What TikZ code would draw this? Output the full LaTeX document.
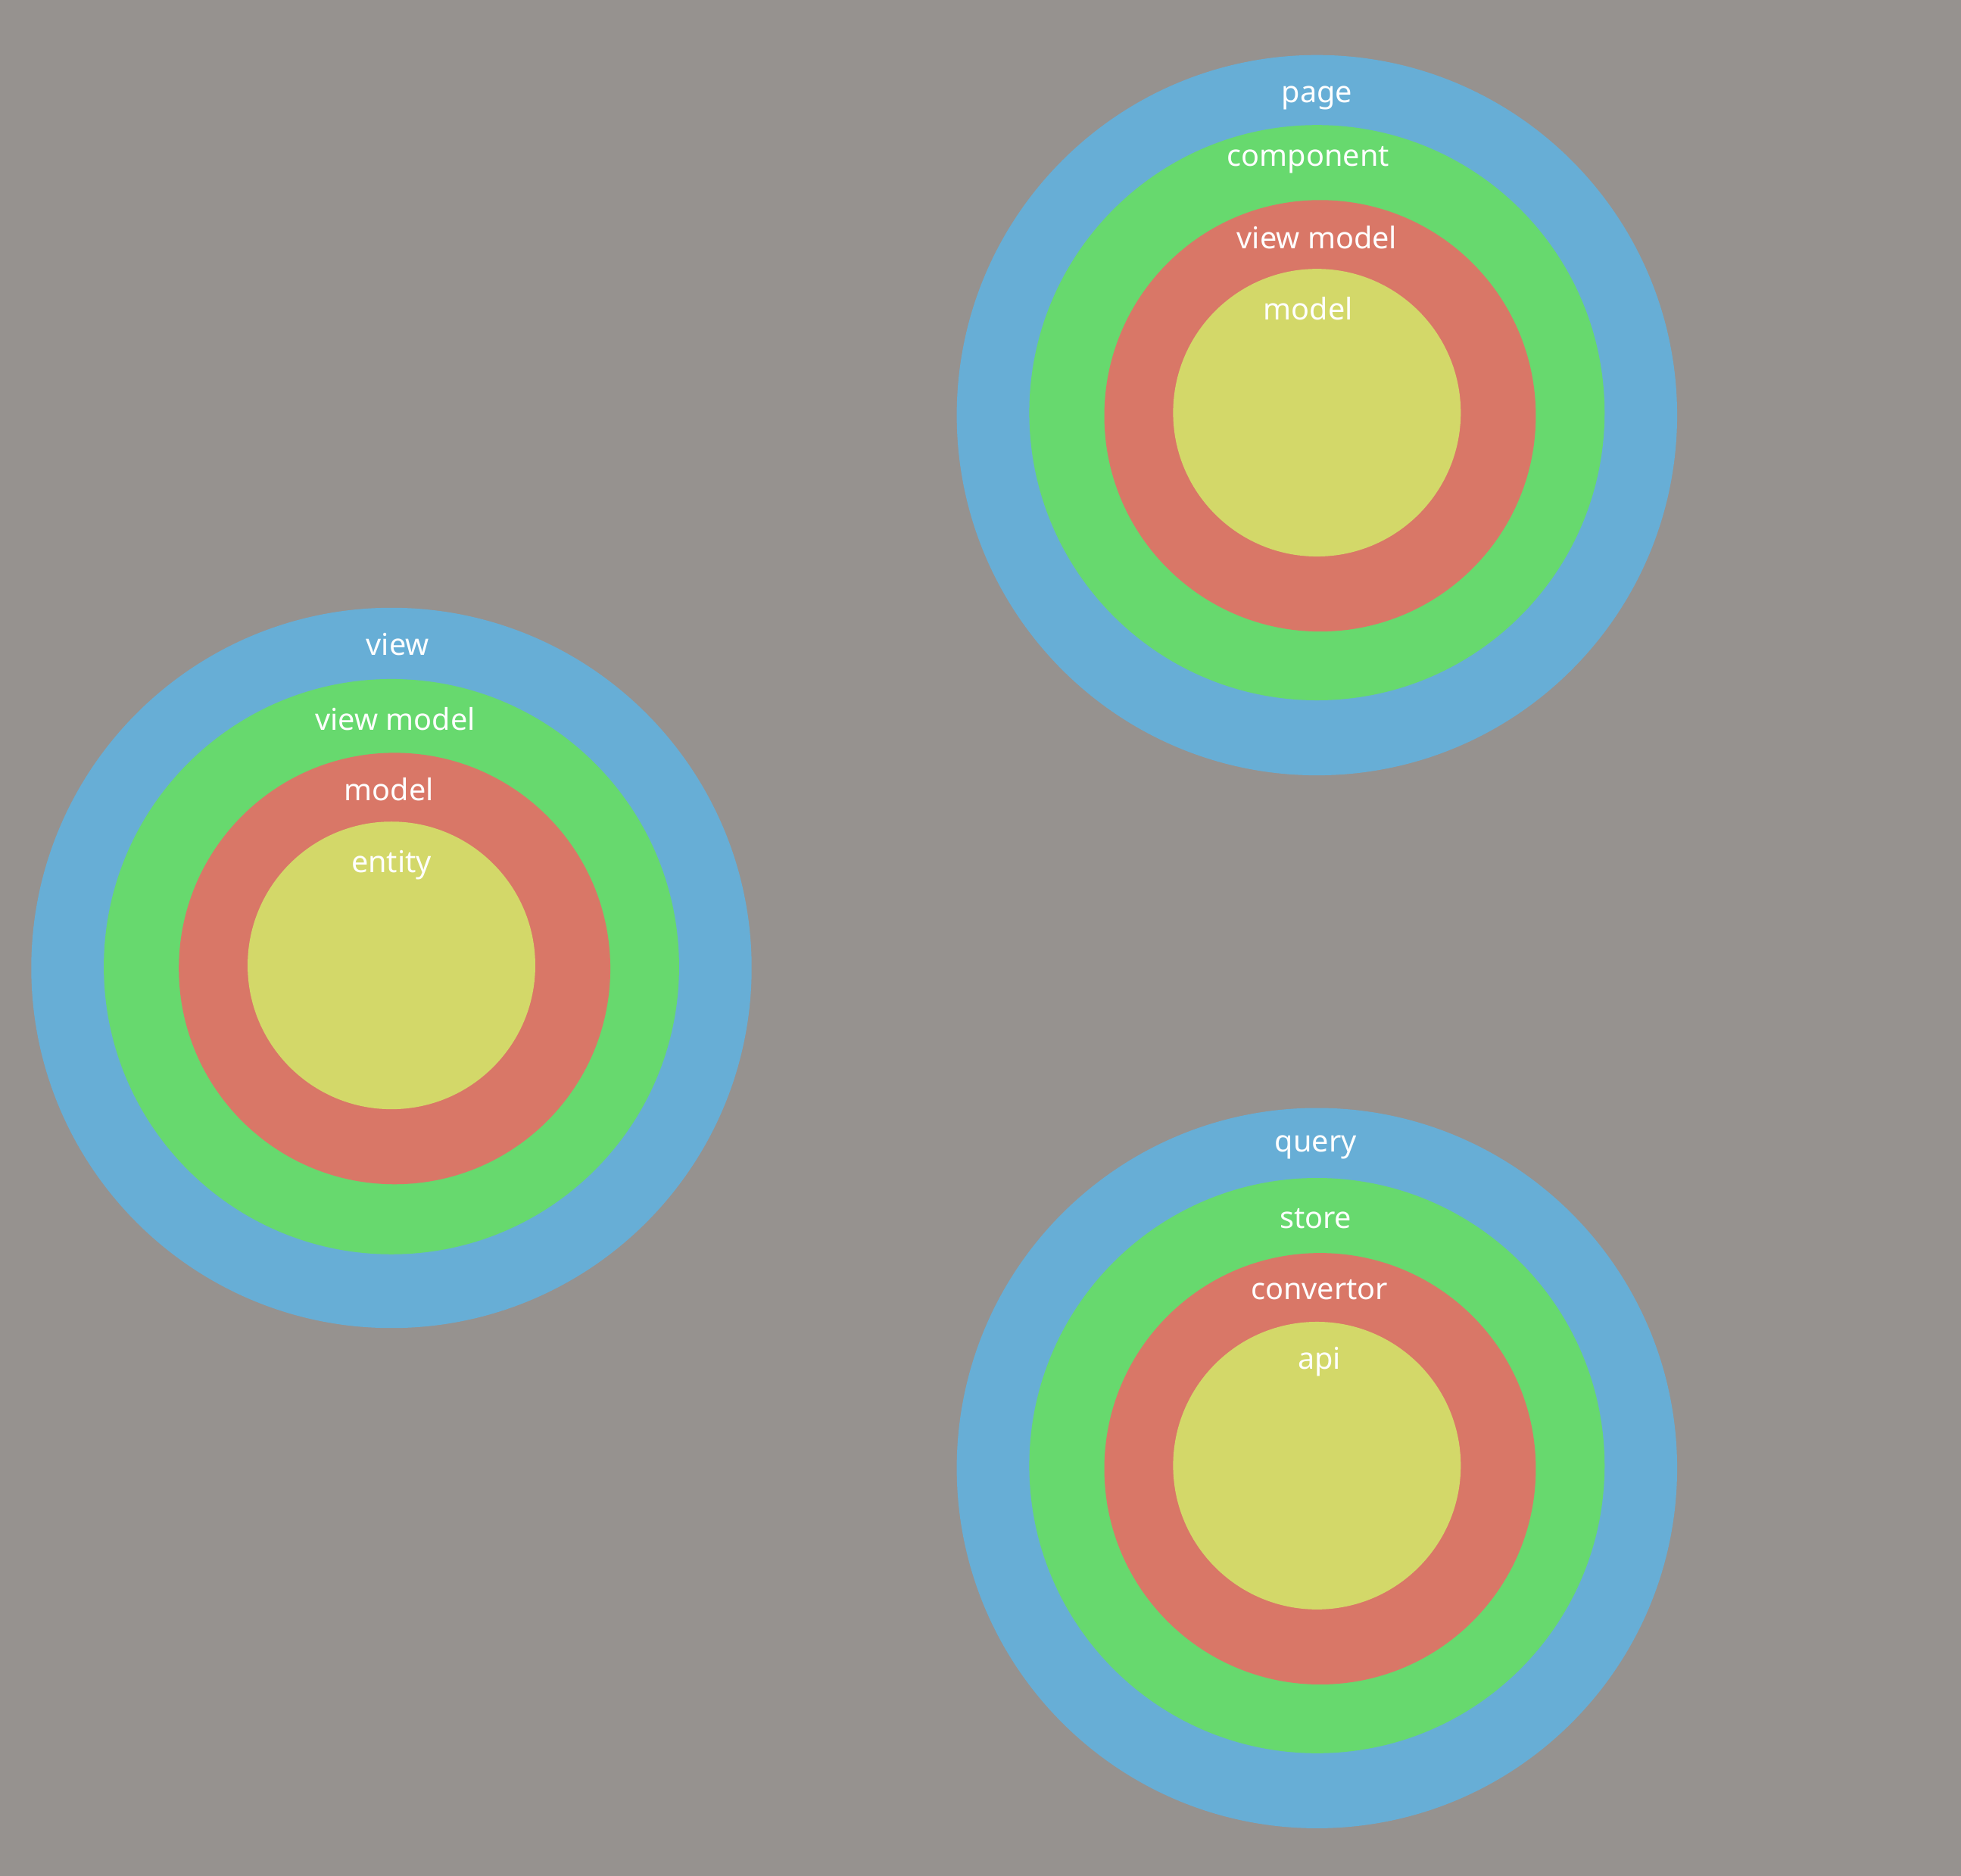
\documentclass[tikz,border=0pt]{standalone}
\usepackage{fontspec}
\setmainfont{Noto Sans}
\definecolor{bg}{HTML}{96928F}
\definecolor{cblue}{HTML}{67AED6}
\definecolor{cgreen}{HTML}{67D96E}
\definecolor{cred}{HTML}{D97767}
\definecolor{cyellow}{HTML}{D3D869}
\begin{document}
\begin{tikzpicture}[x=1pt,y=-1pt,
  ring/.style={circle, inner sep=0pt, draw=none},
  lbl/.style={text=white, font=\fontsize{24}{28}\selectfont, inner sep=0pt, anchor=base}]
\fill[bg] (0,0) rectangle (1568,1500);
\useasboundingbox (0,0) rectangle (1568,1500);
% top right group
\node[ring, fill=cblue, minimum size=576pt] (tb) at (1053,332) {};
\node[ring, fill=cgreen, minimum size=460pt] (tg) at (1053,330) {};
\node[ring, fill=cred, minimum size=345pt] (tr) at (1055.5,332.5) {};
\node[ring, fill=cyellow, minimum size=230pt] (ty) at (1053,330) {};
\node[lbl] (tbl) at (1053,82) {page};
\node[lbl] (tgl) at (1046,133) {component};
\node[lbl] (trl) at (1053,199) {view model};
\node[lbl] (tyl) at (1046,256) {model};
% left group
\node[ring, fill=cblue, minimum size=576pt] (lb) at (313,774) {};
\node[ring, fill=cgreen, minimum size=460pt] (lg) at (313,773) {};
\node[ring, fill=cred, minimum size=345pt] (lr) at (315.5,774.5) {};
\node[ring, fill=cyellow, minimum size=230pt] (ly) at (313,772) {};
\node[lbl] (lbl1) at (318,524) {view};
\node[lbl] (lgl) at (316,584) {view model};
\node[lbl] (lrl) at (311,640) {model};
\node[lbl] (lyl) at (313,698) {entity};
% bottom right group
\node[ring, fill=cblue, minimum size=576pt] (bb) at (1053,1174) {};
\node[ring, fill=cgreen, minimum size=460pt] (bg1) at (1053,1172) {};
\node[ring, fill=cred, minimum size=345pt] (br) at (1055.5,1174.5) {};
\node[ring, fill=cyellow, minimum size=230pt] (by) at (1053,1172) {};
\node[lbl] (bbl) at (1052,921) {query};
\node[lbl] (bgl) at (1052,982) {store};
\node[lbl] (brl) at (1055,1039) {convertor};
\node[lbl] (byl) at (1055,1095) {api};
\end{tikzpicture}
\end{document}
